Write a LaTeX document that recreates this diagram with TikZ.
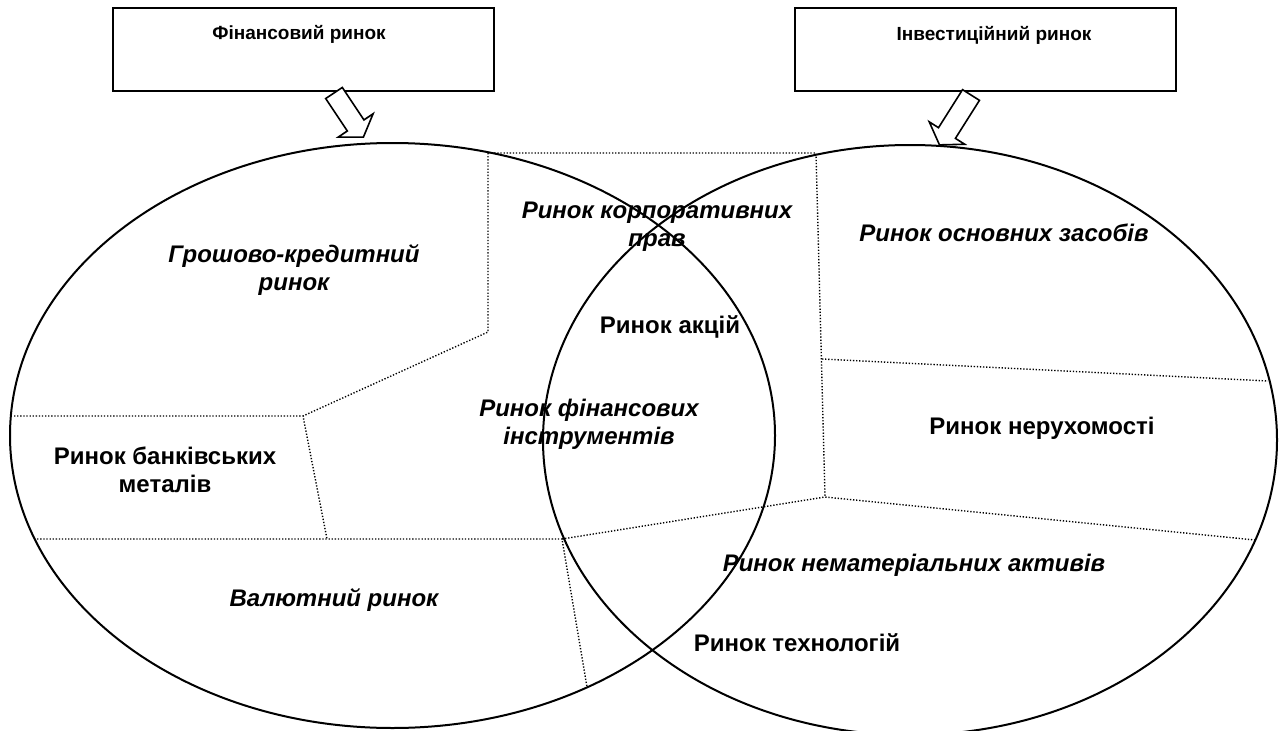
\documentclass[tikz,border=0pt]{standalone}
\usepackage{fontspec}
\setmainfont{Liberation Sans}
\usetikzlibrary{shapes.geometric}
\begin{document}
\begin{tikzpicture}[x=1pt,y=-1pt,
  ell/.style={draw, ellipse, line width=2pt, inner sep=0pt},
  dots/.style={line width=1.4pt, dash pattern=on 1.3pt off 1.8pt},
  hbox/.style={draw, line width=2pt, minimum width=381pt, minimum height=83pt, inner sep=0pt, anchor=north west},
  hdr/.style={font=\fontsize{19}{22}\selectfont\bfseries, anchor=base},
  lab/.style={font=\fontsize{24}{28}\selectfont\bfseries, align=center},
  ilab/.style={font=\fontsize{24}{28}\selectfont\bfseries\itshape, align=center},
  barrow/.style={draw, fill=white, line width=1.6pt, line join=miter}
]
\useasboundingbox (0,0) rectangle (1280,731);

% header boxes
\node[hbox] (fin) at (112,7) {};
\node[hbox] (inv) at (794,7) {};
\node[hdr] (fint) at (299,39) {Фінансовий ринок};
\node[hdr] (invt) at (994,40) {Інвестиційний ринок};

% ellipses
\node[ell, minimum width=765pt, minimum height=585pt] (L) at (392.5,435.5) {};
\node[ell, minimum width=734pt, minimum height=590pt] (R) at (910,440) {};

% block arrows
\begin{scope}[shift={(334,93)}, rotate=-56.3]
  \draw[barrow] (0,-10) -- (39,-10) -- (39,-21) -- (53,0) -- (39,21) -- (39,10) -- (0,10) -- cycle;
\end{scope}
\begin{scope}[shift={(971,95)}, rotate=-122.3]
  \draw[barrow] (0,-10) -- (45,-10) -- (45,-21) -- (59,0) -- (45,21) -- (45,10) -- (0,10) -- cycle;
\end{scope}

% dotted boundaries
\coordinate (a1) at (488,153);
\coordinate (a2) at (816,153);
\coordinate (a3) at (488,332);
\coordinate (a4) at (303,416);
\coordinate (a5) at (14,416);
\coordinate (a6) at (327,539);
\coordinate (a7) at (34,539);
\coordinate (a8) at (562,539);
\coordinate (a9) at (587,687);
\coordinate (b1) at (825,497);
\coordinate (b2) at (822,359);
\coordinate (b3) at (1268,381);
\coordinate (b4) at (1255,540);

\draw[dots] (a1) -- (a2) -- (b1);
\draw[dots] (a1) -- (a3) -- (a4);
\draw[dots] (a5) -- (a4) -- (a6);
\draw[dots] (a7) -- (a8) -- (a9);
\draw[dots] (a8) -- (b1) -- (b4);
\draw[dots] (b2) -- (b3);

% labels
\node[ilab] (t1) at (294,270) {Грошово-кредитний\\ринок};
\node[ilab] (t2) at (657,227) {Ринок корпоративних\\прав};
\node[lab] (t3) at (670,327) {Ринок акцій};
\node[ilab] (t4) at (589,424) {Ринок фінансових\\інструментів};
\node[lab] (t5) at (165,470) {Ринок банківських\\металів};
\node[ilab] (t6) at (334,600) {Валютний ринок};
\node[ilab] (t7) at (1004,233) {Ринок основних засобів};
\node[lab] (t8) at (1042,428) {Ринок нерухомості};
\node[ilab] (t9) at (914,565) {Ринок нематеріальних активів};
\node[lab] (t10) at (797,643) {Ринок технологій};
\end{tikzpicture}
\end{document}
